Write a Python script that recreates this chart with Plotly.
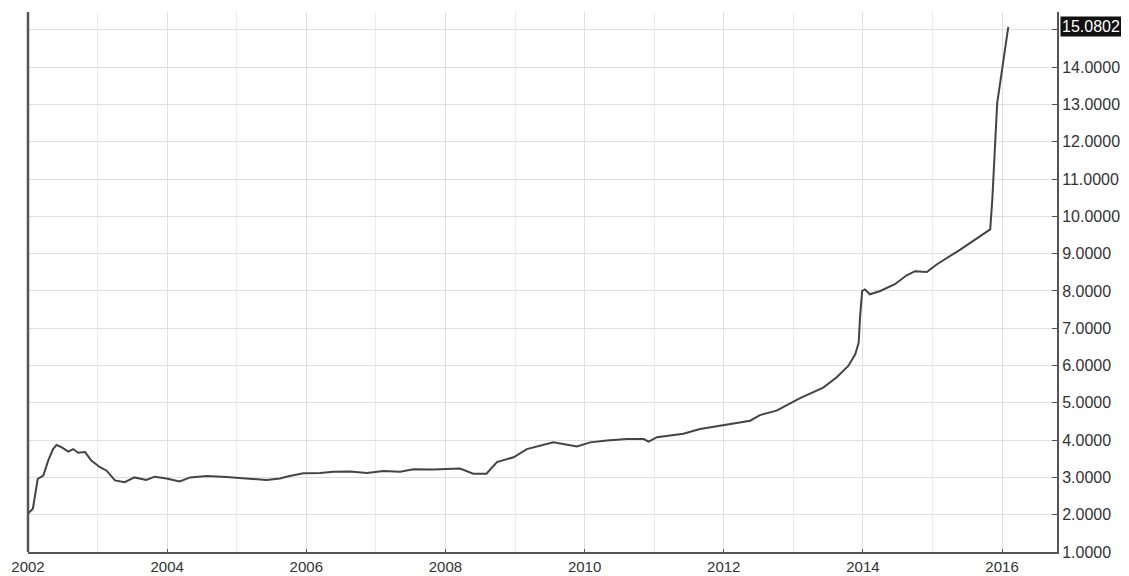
import plotly.graph_objects as go

# Decimal-year positions and values
years = [2002.00, 2002.07, 2002.14, 2002.22, 2002.29, 2002.36, 2002.41, 2002.48, 2002.58, 2002.65,
         2002.72, 2002.82, 2002.91, 2003.03, 2003.13, 2003.25, 2003.39, 2003.53, 2003.70, 2003.82,
         2003.99, 2004.18, 2004.33, 2004.57, 2004.85, 2005.04, 2005.43, 2005.62, 2005.76, 2005.96,
         2006.20, 2006.39, 2006.63, 2006.87, 2007.11, 2007.35, 2007.54, 2007.82, 2008.21, 2008.40,
         2008.59, 2008.74, 2008.98, 2009.17, 2009.36, 2009.55, 2009.89, 2010.08, 2010.32, 2010.61,
         2010.85, 2010.92, 2011.04, 2011.42, 2011.66, 2012.04, 2012.38, 2012.52, 2012.76, 2013.09,
         2013.43, 2013.62, 2013.79, 2013.89, 2013.94, 2013.96, 2013.99, 2014.03, 2014.10, 2014.25,
         2014.46, 2014.63, 2014.75, 2014.92, 2015.06, 2015.40, 2015.69, 2015.83, 2015.86, 2015.93,
         2016.09]
values = [2.03, 2.16, 2.96, 3.05, 3.45, 3.76, 3.87, 3.81, 3.69, 3.76,
          3.66, 3.68, 3.45, 3.28, 3.18, 2.92, 2.87, 3.00, 2.93, 3.02,
          2.97, 2.89, 3.00, 3.04, 3.01, 2.98, 2.93, 2.97, 3.04, 3.11,
          3.12, 3.15, 3.16, 3.12, 3.17, 3.15, 3.22, 3.21, 3.24, 3.10,
          3.10, 3.41, 3.54, 3.76, 3.85, 3.94, 3.83, 3.94, 3.99, 4.03,
          4.03, 3.96, 4.08, 4.17, 4.30, 4.41, 4.52, 4.67, 4.79, 5.12,
          5.41, 5.68, 5.99, 6.30, 6.62, 7.33, 8.00, 8.04, 7.91, 8.00,
          8.18, 8.42, 8.53, 8.51, 8.71, 9.11, 9.47, 9.65, 10.45, 13.03,
          15.0802]

x_labels = [str(y) for y in range(2002, 2017, 2)]
y_ticks = list(range(1, 16))
y_labels = [f"{v:.4f}" for v in range(1, 15)] + [""]
last_label = "15.0802"

fig = go.Figure()
fig.add_trace(go.Scatter(x=years, y=values, mode="lines",
                         line=dict(color="#444444", width=2), showlegend=False))

fig.update_layout(
    width=1121, height=568,
    margin=dict(l=20, r=72, t=4, b=24),
    paper_bgcolor="white", plot_bgcolor="white",
    font=dict(family="Liberation Sans, Arial, sans-serif", size=16, color="#333333"),
    xaxis=dict(
        range=[2002, 2016.79], automargin=False,
        tickvals=[int(s) for s in x_labels], ticktext=x_labels,
        tickfont=dict(size=15),
        showgrid=True, gridcolor="#e0e0e0", gridwidth=1,
        minor=dict(dtick=1, tick0=2002, showgrid=True, gridcolor="#ebebeb", ticks=""),
        showline=True, linecolor="#555555", linewidth=2,
        ticks="inside", ticklen=3, tickcolor="#555555",
        zeroline=False,
    ),
    yaxis=dict(
        side="right", automargin=False,
        range=[1.0, 15.48],
        tickvals=y_ticks, ticktext=y_labels,
        showgrid=True, gridcolor="#e0e0e0", gridwidth=1,
        showline=True, linecolor="#555555", linewidth=2,
        ticks="inside", ticklen=5, tickcolor="#555555",
        zeroline=False,
    ),
    shapes=[dict(type="line", xref="paper", yref="paper", x0=0, x1=0, y0=0, y1=1,
                 line=dict(color="#555555", width=2.5))],
    annotations=[dict(xref="paper", yref="y", x=1, y=values[-1], xanchor="left", yanchor="middle",
                      xshift=3, text=last_label, showarrow=False, bgcolor="#111111",
                      font=dict(color="white", size=16), borderpad=1)],
)

fig.write_html("out.html")
